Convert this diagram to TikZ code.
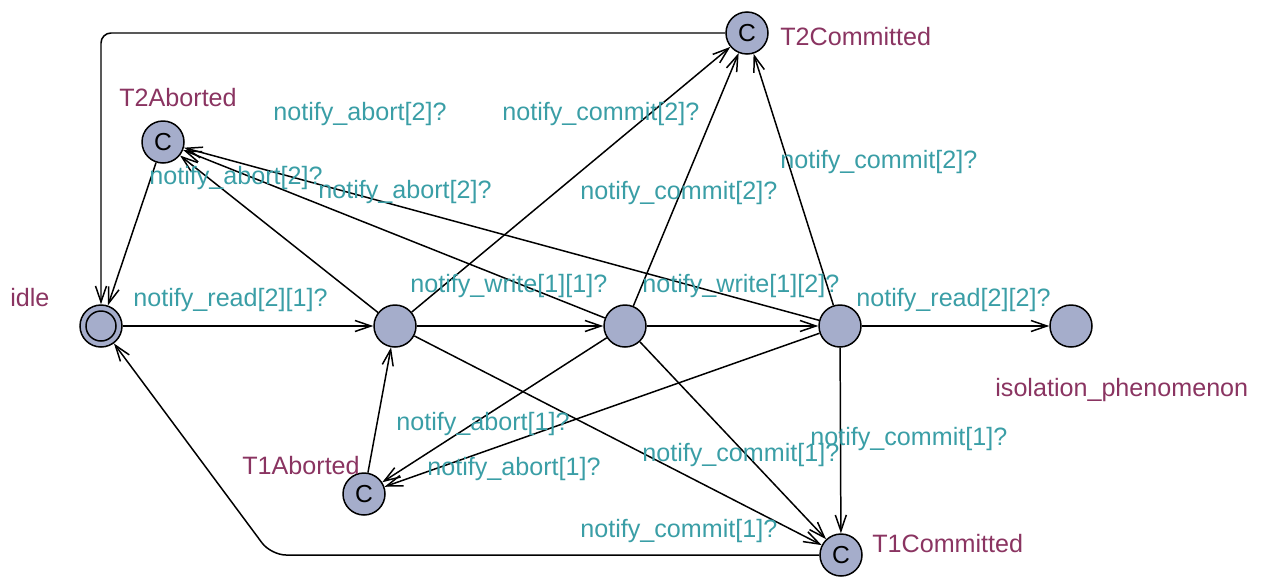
\documentclass[tikz,border=0pt]{standalone}
\usepackage{fontspec}
\setmainfont{Liberation Sans}
\usetikzlibrary{arrows.meta,positioning,calc}
\definecolor{namecol}{RGB}{138,52,97}
\definecolor{synccol}{RGB}{58,158,166}
\definecolor{locfill}{RGB}{165,173,203}
\tikzset{
  loc/.style   = {draw, circle, fill=locfill, minimum size=8.4mm, inner sep=0pt,
                  line width=0.85pt, font=\fontsize{14}{14}\selectfont},
  init/.style  = {loc, path picture={\draw[line width=0.85pt]
                  (path picture bounding box.center) circle (3mm);}},
  lname/.style = {text=namecol, anchor=west, inner sep=0pt,
                  font=\fontsize{14.3}{17}\selectfont},
  lbl/.style   = {text=synccol, anchor=west, inner sep=0pt, yshift=-0.5mm,
                  font=\fontsize{14.3}{17}\selectfont},
  ar/.style    = {-{Straight Barb[length=3.2mm,width=2.2mm]}, line width=0.85pt}
}

\begin{document}
\begin{tikzpicture}[x=0.2mm, y=-0.2mm]
  \useasboundingbox (0,0) rectangle (1264,578);

  % locations
  \node[init] (idle) at (101,326) {};
  \node[loc]  (s1)   at (395,326) {};
  \node[loc]  (s2)   at (625,326) {};
  \node[loc]  (s3)   at (840,326) {};
  \node[loc]  (iso)  at (1071,326) {};
  \node[loc]  (t2c)  at (747,33)  {C};
  \node[loc]  (t2a)  at (163,142) {C};
  \node[loc]  (t1a)  at (364,494) {C};
  \node[loc]  (t1c)  at (841,555) {C};
  \coordinate (lowbend) at (271,555);

  % location names
  \node[lname] (nidle) at (10,298)  {idle};
  \node[lname] (nt2a)  at (119,98)  {T2Aborted};
  \node[lname] (nt2c)  at (780,37)  {T2Committed};
  \node[lname] (nt1a)  at (242,466) {T1Aborted};
  \node[lname] (nt1c)  at (872,544) {T1Committed};
  \node[lname] (niso)  at (995,390) {isolation\_phenomenon};

  % main chain
  \draw[ar] (idle) -- (s1);
  \draw[ar] (s1) -- (s2);
  \draw[ar] (s2) -- (s3);
  \draw[ar] (s3) -- (iso);

  % back to idle
  \draw[ar, rounded corners=2mm] (t2c) -| (idle);
  \draw[ar] (t2a) -- (idle);
  \draw[ar, rounded corners=3mm] (t1c) -- (lowbend) -- (idle);
  \draw[ar] (t1a) -- (s1);

  % aborts / commits
  \draw[ar] (s1) -- (t2a);
  \draw[ar] (s2) -- (t2a);
  \draw[ar] (s3) -- (t2a);
  \draw[ar] (s1) -- (t2c);
  \draw[ar] (s2) -- (t2c);
  \draw[ar] (s3) -- (t2c);
  \draw[ar] (s2) -- (t1a);
  \draw[ar] (s3) -- (t1a);
  \draw[ar] (s1) -- (t1c);
  \draw[ar] (s2) -- (t1c);
  \draw[ar] (s3) -- (t1c);

  % synchronisations
  \node[lbl] (l01) at (133,298) {notify\_read[2][1]?};
  \node[lbl] (l12) at (410,284) {notify\_write[1][1]?};
  \node[lbl] (l23) at (642,284) {notify\_write[1][2]?};
  \node[lbl] (l3i) at (856,298) {notify\_read[2][2]?};
  \node[lbl] (a31) at (273,112) {notify\_abort[2]?};
  \node[lbl] (a11) at (149,176) {notify\_abort[2]?};
  \node[lbl] (a21) at (318,190) {notify\_abort[2]?};
  \node[lbl] (c12) at (502,112) {notify\_commit[2]?};
  \node[lbl] (c22) at (580,191) {notify\_commit[2]?};
  \node[lbl] (c32) at (780,160) {notify\_commit[2]?};
  \node[lbl] (a22) at (396,421) {notify\_abort[1]?};
  \node[lbl] (a32) at (427,466) {notify\_abort[1]?};
  \node[lbl] (c31) at (810,436) {notify\_commit[1]?};
  \node[lbl] (c21) at (642,452) {notify\_commit[1]?};
  \node[lbl] (c11) at (580,528) {notify\_commit[1]?};
\end{tikzpicture}
\end{document}
